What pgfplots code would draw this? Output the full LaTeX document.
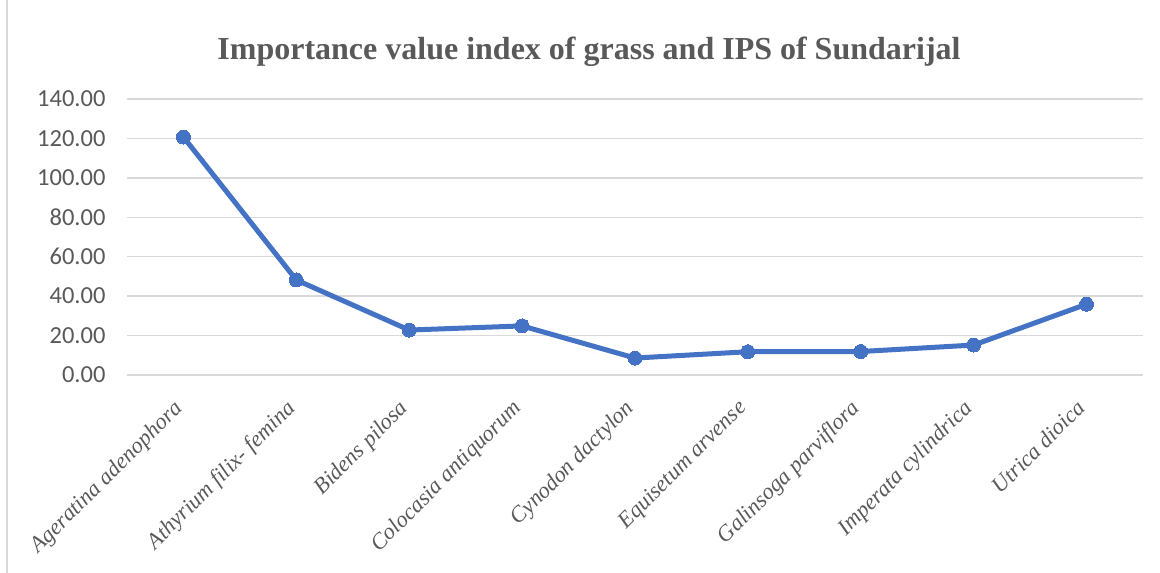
\documentclass[border=0pt]{standalone}
\usepackage{fontspec}
\setmainfont{Liberation Serif}
\newfontfamily\calibri{Carlito}
\newfontfamily\tnrit{Liberation Serif Italic}
\usepackage{pgfplots}
\pgfplotsset{compat=1.18}
\definecolor{lineblue}{HTML}{4472C4}
\definecolor{txt}{HTML}{595959}
\definecolor{grd}{HTML}{D9D9D9}
\newcommand\lbl[1]{{\tnrit\fontsize{22.5}{24}\selectfont #1}}
\begin{document}
\begin{tikzpicture}
\useasboundingbox (0pt,0pt) rectangle (1160pt,573pt);
\draw[grd, line width=2pt] (7pt,0pt) -- (7pt,573pt);
\node[text=txt, font=\rmfamily\fontsize{32}{36}\selectfont\bfseries] at (589pt,521pt) {Importance value index of grass and IPS of Sundarijal};
\begin{axis}[at={(127pt,198pt)}, anchor=south west, scale only axis,
  width=1016pt, height=276pt,
  xmin=-0.5, xmax=8.5, ymin=0, ymax=140,
  ytick={0,20,...,140},
  xtick={0,...,8},
  xticklabels={\lbl{Ageratina adenophora}, \lbl{Athyrium filix- femina}, \lbl{Bidens pilosa}, \lbl{Colocasia antiquorum}, \lbl{Cynodon dactylon}, \lbl{Equisetum arvense}, \lbl{Galinsoga parviflora}, \lbl{Imperata cylindrica}, \lbl{Utrica dioica}},
  ymajorgrids, grid style={grd, line width=1.5pt},
  axis line style={draw=none}, major tick length=0pt,
  /pgf/number format/assume math mode=true,
  yticklabel={\pgfmathprintnumber[fixed, fixed zerofill, precision=2]{\tick}},
  yticklabel style={font=\calibri\fontsize{24.5}{27}\selectfont, text=txt, xshift=-18pt},
  xticklabel style={text=txt, rotate=45, anchor=north east, xshift=-21pt, yshift=-5pt},
  clip=false,
]
\addplot[lineblue, line width=5pt, mark=*, mark size=7pt, mark options={fill=lineblue, draw=lineblue, line width=0pt}] coordinates {
(0,120.7) (1,48.2) (2,22.8) (3,24.9) (4,8.6) (5,11.8) (6,11.9) (7,15.2) (8,35.9)
};
\end{axis}
\end{tikzpicture}
\end{document}
